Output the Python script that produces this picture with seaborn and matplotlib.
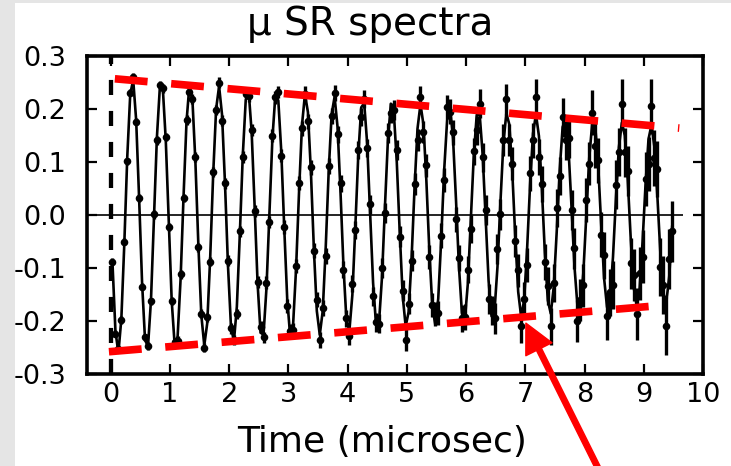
import matplotlib
matplotlib.use("Agg")
import matplotlib.pyplot as plt
import seaborn as sns
import pandas as pd
from matplotlib.patches import Rectangle

# ---------------- data ----------------
time_us = [
    0.03, 0.08, 0.13, 0.18, 0.23, 0.28, 0.33, 0.38, 0.43, 0.48,
    0.53, 0.58, 0.63, 0.68, 0.73, 0.78, 0.83, 0.88, 0.93, 0.98,
    1.03, 1.08, 1.13, 1.18, 1.23, 1.28, 1.33, 1.38, 1.43, 1.48,
    1.53, 1.58, 1.63, 1.68, 1.73, 1.78, 1.83, 1.88, 1.93, 1.98,
    2.03, 2.08, 2.13, 2.18, 2.23, 2.28, 2.33, 2.38, 2.43, 2.48,
    2.53, 2.58, 2.63, 2.68, 2.73, 2.78, 2.83, 2.88, 2.93, 2.98,
    3.03, 3.08, 3.13, 3.18, 3.23, 3.28, 3.33, 3.38, 3.43, 3.48,
    3.53, 3.58, 3.63, 3.68, 3.73, 3.78, 3.83, 3.88, 3.93, 3.98,
    4.03, 4.08, 4.13, 4.18, 4.23, 4.28, 4.33, 4.38, 4.43, 4.48,
    4.53, 4.58, 4.63, 4.68, 4.73, 4.78, 4.83, 4.88, 4.93, 4.98,
    5.03, 5.08, 5.13, 5.18, 5.23, 5.28, 5.33, 5.38, 5.43, 5.48,
    5.53, 5.58, 5.63, 5.68, 5.73, 5.78, 5.83, 5.88, 5.93, 5.98,
    6.03, 6.08, 6.13, 6.18, 6.23, 6.28, 6.33, 6.38, 6.43, 6.48,
    6.53, 6.58, 6.63, 6.68, 6.73, 6.78, 6.83, 6.88, 6.93, 6.98,
    7.03, 7.08, 7.13, 7.18, 7.23, 7.28, 7.33, 7.38, 7.43, 7.48,
    7.53, 7.58, 7.63, 7.68, 7.73, 7.78, 7.83, 7.88, 7.93, 7.98,
    8.03, 8.08, 8.13, 8.18, 8.23, 8.28, 8.33, 8.38, 8.43, 8.48,
    8.53, 8.58, 8.63, 8.68, 8.73, 8.78, 8.83, 8.88, 8.93, 8.98,
    9.03, 9.08, 9.13, 9.18, 9.23, 9.28, 9.33, 9.38, 9.43, 9.48,
]

asymmetry = [
    -0.088, -0.224, -0.253, -0.198, -0.050, 0.101, 0.231, 0.261, 0.176, 0.032,
    -0.135, -0.231, -0.247, -0.163, 0.001, 0.141, 0.245, 0.239, 0.147, -0.023,
    -0.162, -0.240, -0.237, -0.112, 0.032, 0.179, 0.233, 0.219, 0.109, -0.061,
    -0.186, -0.250, -0.193, -0.088, 0.081, 0.198, 0.250, 0.178, 0.060, -0.086,
    -0.214, -0.236, -0.187, -0.031, 0.110, 0.229, 0.225, 0.161, 0.007, -0.127,
    -0.211, -0.231, -0.128, -0.013, 0.150, 0.222, 0.232, 0.112, -0.022, -0.171,
    -0.219, -0.217, -0.096, 0.060, 0.164, 0.229, 0.177, 0.090, -0.067, -0.160,
    -0.235, -0.176, -0.077, 0.093, 0.187, 0.231, 0.152, 0.060, -0.103, -0.195,
    -0.229, -0.130, -0.028, 0.123, 0.185, 0.218, 0.126, 0.020, -0.153, -0.202,
    -0.205, -0.100, 0.004, 0.154, 0.193, 0.198, 0.123, -0.041, -0.143, -0.236,
    -0.167, -0.086, 0.059, 0.142, 0.222, 0.156, 0.094, -0.079, -0.170, -0.187,
    -0.185, -0.039, 0.066, 0.204, 0.195, 0.156, -0.008, -0.081, -0.195, -0.192,
    -0.103, -0.026, 0.120, 0.160, 0.210, 0.109, 0.009, -0.159, -0.180, -0.195,
    -0.064, 0.001, 0.142, 0.218, 0.142, 0.097, -0.049, -0.104, -0.210, -0.158,
    -0.094, 0.079, 0.141, 0.223, 0.109, 0.059, -0.088, -0.134, -0.210, -0.129,
    0.013, 0.073, 0.184, 0.141, 0.145, 0.009, -0.063, -0.200, -0.160, -0.133,
    0.028, 0.097, 0.193, 0.131, 0.103, -0.037, -0.076, -0.191, -0.146, -0.132,
    0.057, 0.119, 0.210, 0.118, 0.083, -0.091, -0.113, -0.186, -0.110, -0.079,
    0.068, 0.097, 0.205, 0.107, 0.087, -0.098, -0.132, -0.209, -0.083, -0.031,
]

asym_err = [
    0.007, 0.007, 0.007, 0.007, 0.007, 0.007, 0.007, 0.007, 0.007, 0.007,
    0.007, 0.007, 0.007, 0.007, 0.008, 0.008, 0.008, 0.008, 0.008, 0.008,
    0.008, 0.008, 0.008, 0.008, 0.008, 0.009, 0.009, 0.009, 0.009, 0.009,
    0.009, 0.009, 0.009, 0.009, 0.010, 0.010, 0.010, 0.010, 0.010, 0.010,
    0.010, 0.010, 0.010, 0.010, 0.011, 0.011, 0.011, 0.011, 0.011, 0.011,
    0.011, 0.011, 0.012, 0.012, 0.012, 0.012, 0.012, 0.012, 0.013, 0.013,
    0.013, 0.013, 0.013, 0.013, 0.014, 0.014, 0.014, 0.014, 0.014, 0.014,
    0.015, 0.015, 0.015, 0.015, 0.015, 0.015, 0.016, 0.016, 0.016, 0.016,
    0.016, 0.016, 0.017, 0.017, 0.017, 0.017, 0.017, 0.018, 0.018, 0.018,
    0.018, 0.018, 0.019, 0.019, 0.019, 0.019, 0.019, 0.020, 0.020, 0.020,
    0.020, 0.020, 0.021, 0.021, 0.021, 0.021, 0.022, 0.022, 0.022, 0.022,
    0.023, 0.023, 0.023, 0.023, 0.024, 0.024, 0.024, 0.025, 0.025, 0.025,
    0.026, 0.026, 0.026, 0.027, 0.027, 0.027, 0.028, 0.028, 0.028, 0.029,
    0.029, 0.029, 0.030, 0.030, 0.030, 0.031, 0.031, 0.031, 0.032, 0.032,
    0.032, 0.033, 0.033, 0.033, 0.034, 0.034, 0.034, 0.035, 0.035, 0.036,
    0.036, 0.036, 0.037, 0.037, 0.038, 0.038, 0.039, 0.039, 0.040, 0.040,
    0.041, 0.041, 0.042, 0.042, 0.043, 0.043, 0.044, 0.044, 0.045, 0.045,
    0.046, 0.046, 0.047, 0.047, 0.048, 0.048, 0.049, 0.049, 0.050, 0.050,
    0.051, 0.051, 0.052, 0.053, 0.053, 0.054, 0.055, 0.055, 0.056, 0.057,
]

fit_curve = [
    -0.090, -0.219, -0.260, -0.196, -0.054, 0.110, 0.228, 0.255, 0.179, 0.031,
    -0.128, -0.236, -0.248, -0.161, -0.009, 0.146, 0.241, 0.239, 0.141, -0.013,
    -0.162, -0.245, -0.229, -0.121, 0.035, 0.176, 0.246, 0.217, 0.101, -0.056,
    -0.189, -0.246, -0.204, -0.080, 0.076, 0.200, 0.243, 0.189, 0.059, -0.095,
    -0.209, -0.239, -0.173, -0.037, 0.112, 0.217, 0.233, 0.156, 0.017, -0.129,
    -0.222, -0.226, -0.138, 0.004, 0.144, 0.226, 0.216, 0.120, -0.024, -0.158,
    -0.228, -0.206, -0.101, 0.044, 0.170, 0.228, 0.194, 0.082, -0.063, -0.181,
    -0.226, -0.181, -0.062, 0.081, 0.190, 0.223, 0.166, 0.043, -0.097, -0.198,
    -0.218, -0.151, -0.023, 0.113, 0.203, 0.211, 0.135, 0.004, -0.128, -0.207,
    -0.203, -0.118, 0.015, 0.141, 0.210, 0.194, 0.100, -0.033, -0.153, -0.210,
    -0.183, -0.082, 0.051, 0.163, 0.209, 0.171, 0.064, -0.068, -0.172, -0.207,
    -0.158, -0.046, 0.084, 0.179, 0.202, 0.144, 0.028, -0.098, -0.185, -0.197,
    -0.129, -0.010, 0.112, 0.189, 0.189, 0.114, -0.007, -0.124, -0.191, -0.181,
    -0.098, 0.024, 0.136, 0.192, 0.171, 0.082, -0.040, -0.145, -0.192, -0.161,
    -0.065, 0.056, 0.154, 0.190, 0.149, 0.049, -0.071, -0.161, -0.186, -0.136,
    -0.032, 0.084, 0.166, 0.181, 0.123, 0.016, -0.097, -0.171, -0.175, -0.109,
    0.000, 0.109, 0.173, 0.168, 0.095, -0.016, -0.119, -0.174, -0.159, -0.080,
    0.031, 0.128, 0.174, 0.150, 0.065, -0.045, -0.136, -0.172, -0.139, -0.050,
    0.058, 0.143, 0.170, 0.128, 0.035, -0.071, -0.148, -0.165, -0.116, -0.020,
]

# red dashed decay envelope (guide lines)
env_top_t = [0.07, 9.60]
env_top_y = [0.257, 0.164]
env_bot_t = [-0.03, 9.36]
env_bot_y = [-0.258, -0.170]

# reference lines
t_zero = 0.0
baseline_value = 0.0
baseline_span = [-0.40, 9.66]

# arrow target
arrow_tip = (7.01, -0.204)

x_ticks = [0, 1, 2, 3, 4, 5, 6, 7, 8, 9, 10]
x_ticklabels = ["0", "1", "2", "3", "4", "5", "6", "7", "8", "9", "10"]
y_ticks = [-0.3, -0.2, -0.1, 0.0, 0.1, 0.2, 0.3]
y_ticklabels = ["-0.3", "-0.2", "-0.1", "0.0", "0.1", "0.2", "0.3"]

title_text = "\u03bc SR spectra"
xlabel_text = "Time (microsec)"

assert len(time_us) == len(asymmetry) == len(asym_err) == len(fit_curve)

df = pd.DataFrame({"t": time_us, "a": asymmetry, "err": asym_err, "fit": fit_curve})

# ---------------- styling ----------------
sns.set_style("white")
plt.rcParams["font.family"] = ["DejaVu Sans"]
plt.rcParams["axes.unicode_minus"] = False
plt.rcParams["text.color"] = "black"
plt.rcParams["xtick.color"] = "black"
plt.rcParams["ytick.color"] = "black"

W, H = 731, 466
TICK_FS = 19.5
fig = plt.figure(figsize=(W / 100, H / 100), dpi=100)
fig.patch.set_facecolor("white")
fig.add_artist(Rectangle((0, 0), 15 / W, 1, transform=fig.transFigure,
                         facecolor="#e5e5e5", edgecolor="none", zorder=-10))
fig.add_artist(Rectangle((0, 1 - 3 / H), 1, 3 / H, transform=fig.transFigure,
                         facecolor="#e5e5e5", edgecolor="none", zorder=-10))

ax = fig.add_axes([87 / W, (H - 374) / H, 616 / W, 318 / H])

# zero baseline
ax.hlines(baseline_value, baseline_span[0], baseline_span[1], color="black", lw=1.2, zorder=1)

# fit curve
sns.lineplot(data=df, x="t", y="fit", ax=ax, color="black", lw=1.9,
             estimator=None, sort=True, zorder=2)

# error bars and data points
ax.errorbar(df["t"], df["a"], yerr=df["err"], fmt="none", ecolor="black",
            elinewidth=2.4, capsize=0, zorder=3)
sns.scatterplot(data=df, x="t", y="a", ax=ax, color="black", s=30,
                edgecolor="black", linewidth=0, zorder=4)

# vertical dashed line at t = 0
ax.axvline(t_zero, color="black", lw=3.1, dashes=(3.5, 3.7), zorder=4)

# red envelope lines
ax.plot(env_top_t, env_top_y, color="#ff0000", lw=5.5, dashes=(4.3, 3.1),
        dash_capstyle="butt", zorder=6)
ax.plot(env_bot_t, env_bot_y, color="#ff0000", lw=5.5, dashes=(4.3, 3.1),
        dash_capstyle="butt", zorder=6)

ax.set_xlim(-0.4, 10.0)
ax.set_ylim(-0.3, 0.3)
ax.set_xticks(x_ticks)
ax.set_xticklabels(x_ticklabels, fontsize=TICK_FS, color="black")
ax.set_yticks(y_ticks)
ax.set_yticklabels(y_ticklabels, fontsize=TICK_FS, color="black")
ax.set_xlabel("")
ax.set_ylabel("")

for sp in ax.spines.values():
    sp.set_visible(True)
    sp.set_linewidth(2.6)
    sp.set_color("black")

ax.tick_params(axis="both", which="major", direction="in", length=7, width=1.6,
               top=True, right=True, bottom=True, left=True, colors="black")
ax.tick_params(axis="x", pad=6)
ax.tick_params(axis="y", pad=15)

# title and axis label
fig.text(370 / W, 1 - 35 / H, title_text, ha="center", va="baseline",
         fontsize=28, color="black")
fig.text(382 / W, 1 - 452 / H, xlabel_text, ha="center", va="baseline",
         fontsize=26, color="black")

# red arrow
ax.annotate("", xy=arrow_tip, xycoords="data",
            xytext=(604 / W, -14 / H), textcoords="figure fraction",
            arrowprops=dict(facecolor="#ff0000", edgecolor="#ff0000",
                            width=3.9, headwidth=21, headlength=21, shrink=0.0),
            annotation_clip=False, zorder=7)

fig.savefig("out.png", dpi=100)
